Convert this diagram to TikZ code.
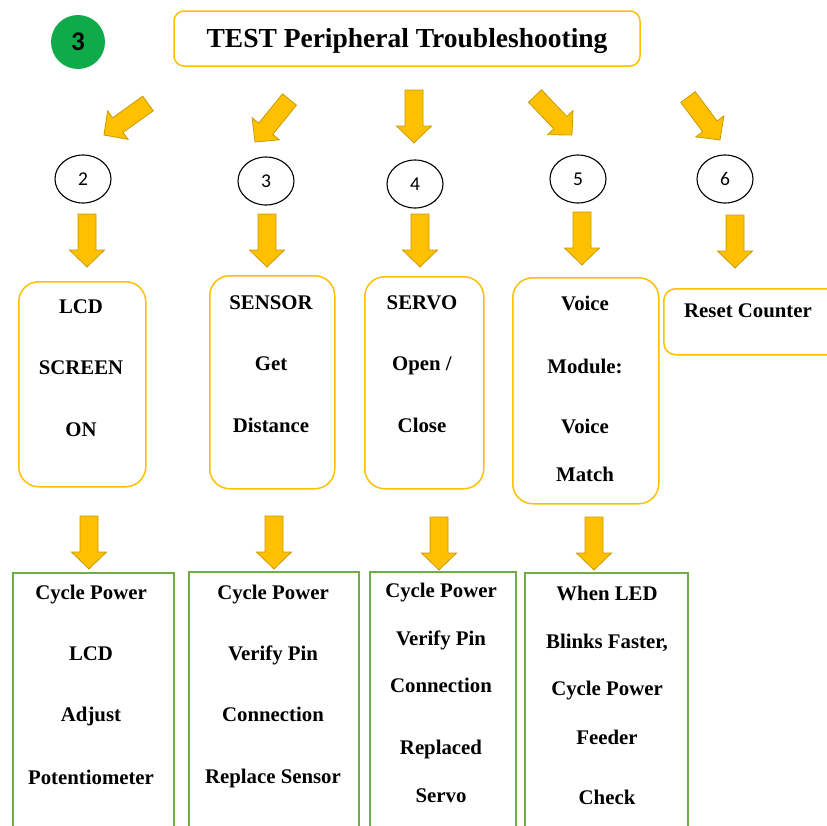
\documentclass[tikz,border=0pt]{standalone}
\usepackage{fontspec}
\setmainfont{Liberation Serif}
\newfontfamily\numfont{Carlito}
\usetikzlibrary{calc,shapes.geometric}

\definecolor{amber}{HTML}{FFC000}
\definecolor{amberedge}{HTML}{C99A00}
\definecolor{leaf}{HTML}{70AD47}
\definecolor{badge}{HTML}{0FAA4A}

% block arrow from tail coordinate #1 to tip coordinate #2
\newcommand\blockarrow[2]{%
  \coordinate (ba-m) at ($(#2)!17pt!(#1)$);
  \filldraw[arrowbody]
    ($(#1)!9pt!90:(#2)$) -- ($(ba-m)!9pt!-90:(#1)$) -- ($(ba-m)!17.5pt!-90:(#1)$)
    -- (#2) -- ($(ba-m)!17.5pt!90:(#1)$) -- ($(ba-m)!9pt!90:(#1)$)
    -- ($(#1)!9pt!-90:(#2)$) -- cycle;}

\tikzset{
  arrowbody/.style={fill=amber, draw=amberedge, line width=0.8pt, line join=miter},
  titlebox/.style={draw=amber, line width=1.5pt, rounded corners=10pt, fill=white},
  obox/.style={draw=amber, line width=1.5pt, rounded corners=20pt, anchor=north west, inner sep=0pt},
  gbox/.style={draw=leaf, line width=1.5pt, anchor=north west, inner sep=0pt},
  ring/.style={draw=black, line width=1.1pt, ellipse, minimum width=56pt, minimum height=48pt, inner sep=0pt,
    font=\numfont\fontsize{19.5}{23}\selectfont},
  txt/.style={anchor=base, inner sep=0pt, font=\fontsize{20.8}{25}\selectfont\bfseries},
}

\begin{document}
\begin{tikzpicture}[x=1pt,y=-1pt]
\clip (0,0) rectangle (827,825);
\fill[white] (0,0) rectangle (827,825);

% header
\node[circle, fill=badge, minimum size=54pt, inner sep=0pt,
  font=\numfont\fontsize{27}{31}\selectfont\bfseries] (badge) at (78,42) {3};
\node[titlebox, minimum width=466pt, minimum height=55pt] (title) at (407,38.5) {};
\node[anchor=base, inner sep=0pt, font=\fontsize{27.5}{33}\selectfont\bfseries] (titletext) at (407,47) {TEST Peripheral Troubleshooting};

% numbered steps
\node[ring] (c2) at (83,179) {2};
\node[ring] (c3) at (266,181) {3};
\node[ring] (c4) at (415,184) {4};
\node[ring] (c5) at (578,179) {5};
\node[ring] (c6) at (725,179) {6};

% arrow ends, top row
\coordinate (a1t) at (148,103.5);  \coordinate (a1h) at (104,135);
\coordinate (a2t) at (289.5,99.5); \coordinate (a2h) at (255,142);
\coordinate (a3t) at (414,90);     \coordinate (a3h) at (414,143);
\coordinate (a4t) at (535,96);     \coordinate (a4h) at (572,135);
\coordinate (a5t) at (688,97);     \coordinate (a5h) at (720,140);
\blockarrow{a1t}{a1h}
\blockarrow{a2t}{a2h}
\blockarrow{a3t}{a3h}
\blockarrow{a4t}{a4h}
\blockarrow{a5t}{a5h}

% arrow ends, middle row
\coordinate (b1t) at (87,214);  \coordinate (b1h) at (87,267);
\coordinate (b2t) at (267,214); \coordinate (b2h) at (267,267);
\coordinate (b3t) at (420,214); \coordinate (b3h) at (420,267);
\coordinate (b4t) at (582,212); \coordinate (b4h) at (582,265);
\coordinate (b5t) at (735,215); \coordinate (b5h) at (735,268);
\blockarrow{b1t}{b1h}
\blockarrow{b2t}{b2h}
\blockarrow{b3t}{b3h}
\blockarrow{b4t}{b4h}
\blockarrow{b5t}{b5h}

% peripheral boxes
\node[obox, minimum width=127pt, minimum height=205pt] (lcd) at (18,281) {};
\node[obox, minimum width=125pt, minimum height=213pt] (sensor) at (209,275) {};
\node[obox, minimum width=119pt, minimum height=212pt] (servo) at (364,276) {};
\node[obox, minimum width=146pt, minimum height=226pt] (voice) at (512,277) {};
\node[obox, minimum width=182pt, minimum height=66pt, rounded corners=12pt] (reset) at (663,288) {};

\node[txt] (lcd1) at (81,313) {LCD};
\node[txt] (lcd2) at (81,374) {SCREEN};
\node[txt] (lcd3) at (81,436) {ON};

\node[txt] (sen1) at (271,309) {SENSOR};
\node[txt] (sen2) at (271,370) {Get};
\node[txt] (sen3) at (271,432) {Distance};

\node[txt] (srv1) at (422,309) {SERVO};
\node[txt] (srv2) at (422,370) {Open /};
\node[txt] (srv3) at (422,432) {Close};

\node[txt] (voi1) at (585,310) {Voice};
\node[txt] (voi2) at (585,373) {Module:};
\node[txt] (voi3) at (585,433) {Voice};
\node[txt] (voi4) at (585,481) {Match};

\node[txt] (rst1) at (748,317) {Reset Counter};

% arrow ends, bottom row
\coordinate (d1t) at (89,516);  \coordinate (d1h) at (89,569);
\coordinate (d2t) at (274,516); \coordinate (d2h) at (274,569);
\coordinate (d3t) at (439,517); \coordinate (d3h) at (439,570);
\coordinate (d4t) at (594,517); \coordinate (d4h) at (594,570);
\blockarrow{d1t}{d1h}
\blockarrow{d2t}{d2h}
\blockarrow{d3t}{d3h}
\blockarrow{d4t}{d4h}

% remedy boxes
\node[gbox, minimum width=161pt, minimum height=280pt] (fix1) at (12,572) {};
\node[gbox, minimum width=170pt, minimum height=280pt] (fix2) at (188,571) {};
\node[gbox, minimum width=146pt, minimum height=280pt] (fix3) at (369,571) {};
\node[gbox, minimum width=163pt, minimum height=280pt] (fix4) at (524,572) {};

\node[txt] (f11) at (91,599) {Cycle Power};
\node[txt] (f12) at (91,660) {LCD};
\node[txt] (f13) at (91,721) {Adjust};
\node[txt] (f14) at (91,784) {Potentiometer};

\node[txt] (f21) at (273,599) {Cycle Power};
\node[txt] (f22) at (273,660) {Verify Pin};
\node[txt] (f23) at (273,721) {Connection};
\node[txt] (f24) at (273,783) {Replace Sensor};

\node[txt] (f31) at (441,597) {Cycle Power};
\node[txt] (f32) at (441,645) {Verify Pin};
\node[txt] (f33) at (441,692) {Connection};
\node[txt] (f34) at (441,754) {Replaced};
\node[txt] (f35) at (441,802) {Servo};

\node[txt] (f41) at (607,600) {When LED};
\node[txt] (f42) at (607,648) {Blinks Faster,};
\node[txt] (f43) at (607,695) {Cycle Power};
\node[txt] (f44) at (607,744) {Feeder};
\node[txt] (f45) at (607,804) {Check};
\end{tikzpicture}
\end{document}
